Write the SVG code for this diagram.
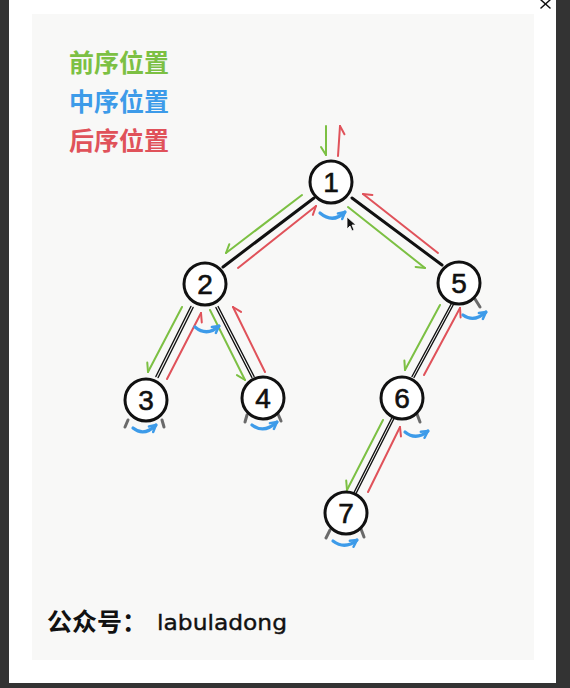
<svg xmlns="http://www.w3.org/2000/svg" width="570" height="688" viewBox="0 0 570 688">
<defs>
<style>
.bg{fill:#333}
.modal{fill:#fff}
.paper{fill:#f8f8f7}
.node circle{fill:#fff;stroke:#111;stroke-width:3}
.node text{font-family:"Liberation Sans",Arial,sans-serif;font-size:28px;fill:#111;stroke:#111;stroke-width:0.6;text-anchor:middle}
.edge{stroke:#111;stroke-width:3;stroke-linecap:round;fill:none}
.edge2{stroke:#111;stroke-width:1.4;stroke-linecap:round;fill:none}
.g{stroke:#7cc043;stroke-width:2;fill:none;stroke-linecap:round;marker-end:url(#hg)}
.r{stroke:#e0525a;stroke-width:2;fill:none;stroke-linecap:round;marker-end:url(#hr)}
.b{stroke:#3d9be9;stroke-width:3.2;fill:none;stroke-linecap:round;marker-end:url(#hb)}
.tick{stroke:#6a6a6a;stroke-width:3;stroke-linecap:round}
.leg{font-family:"Noto Sans CJK SC",sans-serif;font-weight:bold;font-size:25px}
.foot{font-family:"Noto Sans CJK SC",sans-serif;font-weight:bold;font-size:25px;fill:#111}
.lat{font-family:"DejaVu Sans","Liberation Sans",sans-serif;font-size:22px;fill:#111;stroke:#111;stroke-width:0.4}
</style>
<marker id="hg" viewBox="-10 -10 20 20" markerWidth="20" markerHeight="20" refX="0" refY="0" orient="auto" markerUnits="userSpaceOnUse"><path d="M0,0 L-8,5" stroke="#7cc043" stroke-width="2" stroke-linecap="round" fill="none"/></marker>
<marker id="hr" viewBox="-10 -10 20 20" markerWidth="20" markerHeight="20" refX="0" refY="0" orient="auto" markerUnits="userSpaceOnUse"><path d="M0,0 L-8,5" stroke="#e0525a" stroke-width="2" stroke-linecap="round" fill="none"/></marker>
<marker id="hb" viewBox="-10 -10 20 20" markerWidth="20" markerHeight="20" refX="0" refY="0" orient="auto" markerUnits="userSpaceOnUse"><path d="M0,0 L-6,-4 M0,0 L-7,3" stroke="#3d9be9" stroke-width="2.5" stroke-linecap="round" fill="none"/></marker>
</defs>
<rect class="bg" x="0" y="0" width="570" height="688"/>
<rect class="modal" x="9" y="0" width="547" height="683"/>
<rect class="paper" x="32" y="14" width="502" height="646"/>
<g id="close" stroke="#111" stroke-width="1.5" stroke-linecap="round"><line x1="541" y1="0" x2="550" y2="8"/><line x1="550" y1="0" x2="541" y2="8"/></g>

<g id="legend">
<text class="leg" x="69" y="72" fill="#7cc043">前序位置</text>
<text class="leg" x="69" y="111" fill="#3d9be9">中序位置</text>
<text class="leg" x="69" y="150" fill="#e0525a">后序位置</text>
</g>

<g id="connectors">
<line class="edge" x1="314" y1="198" x2="223" y2="267"/>
<line class="edge" x1="352" y1="198" x2="442" y2="265"/>
<line class="edge2" x1="190.9" y1="306.5" x2="155.9" y2="376.5"/>
<line class="edge2" x1="193.1" y1="307.5" x2="158.1" y2="377.5"/>
<line class="edge2" x1="215.9" y1="307.5" x2="251.9" y2="377.5"/>
<line class="edge2" x1="218.1" y1="306.5" x2="254.1" y2="376.5"/>
<line class="edge2" x1="452" y1="302.5" x2="412" y2="376.5"/>
<line class="edge2" x1="454" y1="303.5" x2="414" y2="377.5"/>
<line class="edge2" x1="392" y1="417.5" x2="354" y2="492.5"/>
<line class="edge2" x1="394" y1="418.5" x2="356" y2="493.5"/>

<line class="g" x1="326" y1="126" x2="326" y2="155"/>
<line class="g" x1="302" y1="195" x2="226" y2="253"/>
<line class="g" x1="348" y1="207" x2="425" y2="268"/>
<line class="g" x1="182" y1="307" x2="148" y2="372"/>
<line class="g" x1="210" y1="310" x2="245" y2="380"/>
<line class="g" x1="440" y1="305" x2="405" y2="370"/>
<line class="g" x1="383" y1="420" x2="347" y2="490"/>

<line class="r" x1="338" y1="156" x2="340" y2="126"/>
<line class="r" x1="238" y1="268" x2="316" y2="206"/>
<line class="r" x1="438" y1="253" x2="363" y2="194"/>
<line class="r" x1="167" y1="379" x2="201" y2="313"/>
<line class="r" x1="265" y1="372" x2="233" y2="307"/>
<line class="r" x1="424" y1="375" x2="460" y2="308"/>
<line class="r" x1="368" y1="492" x2="400" y2="427"/>

<path class="b" d="M320,213 Q333,224 345,212"/>
<path class="b" d="M195,327 Q207,337 219,326"/>
<path class="b" d="M133,428 Q144,437 156,425"/>
<path class="b" d="M252,425 Q264,434 277,422"/>
<path class="b" d="M463,315 Q474,323 486,312"/>
<path class="b" d="M405,432 Q416,441 428,431"/>
<path class="b" d="M333,541 Q345,550 357,540"/>

<line class="tick" x1="128" y1="420" x2="125" y2="427"/>
<line class="tick" x1="162" y1="420" x2="164" y2="427"/>
<line class="tick" x1="247" y1="415" x2="245" y2="422"/>
<line class="tick" x1="278" y1="414" x2="281" y2="421"/>
<line class="tick" x1="475" y1="299" x2="480" y2="307"/>
<line class="tick" x1="417" y1="414" x2="420" y2="422"/>
<line class="tick" x1="330" y1="530" x2="326" y2="538"/>
<line class="tick" x1="361" y1="529" x2="364" y2="537"/>
</g>

<g id="n1" class="node"><circle cx="331" cy="182" r="21"/><text x="331" y="192">1</text></g>
<g id="n2" class="node"><circle cx="205" cy="284" r="21"/><text x="205" y="294">2</text></g>
<g id="n5" class="node"><circle cx="459" cy="283" r="21"/><text x="459" y="293">5</text></g>
<g id="n3" class="node"><circle cx="146" cy="400" r="21"/><text x="146" y="410">3</text></g>
<g id="n4" class="node"><circle cx="263" cy="398" r="21"/><text x="263" y="408">4</text></g>
<g id="n6" class="node"><circle cx="402" cy="398" r="21"/><text x="402" y="408">6</text></g>
<g id="n7" class="node"><circle cx="346" cy="513" r="21"/><text x="346" y="523">7</text></g>

<path id="cursor" d="M347,217 L347,229 L350,226 L352,231 L354,230 L352,225 L356,225 Z" fill="#111" stroke="#fff" stroke-width="0.8"/>

<g id="footer">
<text class="foot" x="47" y="631">公众号：</text>
<text class="lat" x="157" y="630" textLength="130" lengthAdjust="spacingAndGlyphs">labuladong</text>
</g>
</svg>
